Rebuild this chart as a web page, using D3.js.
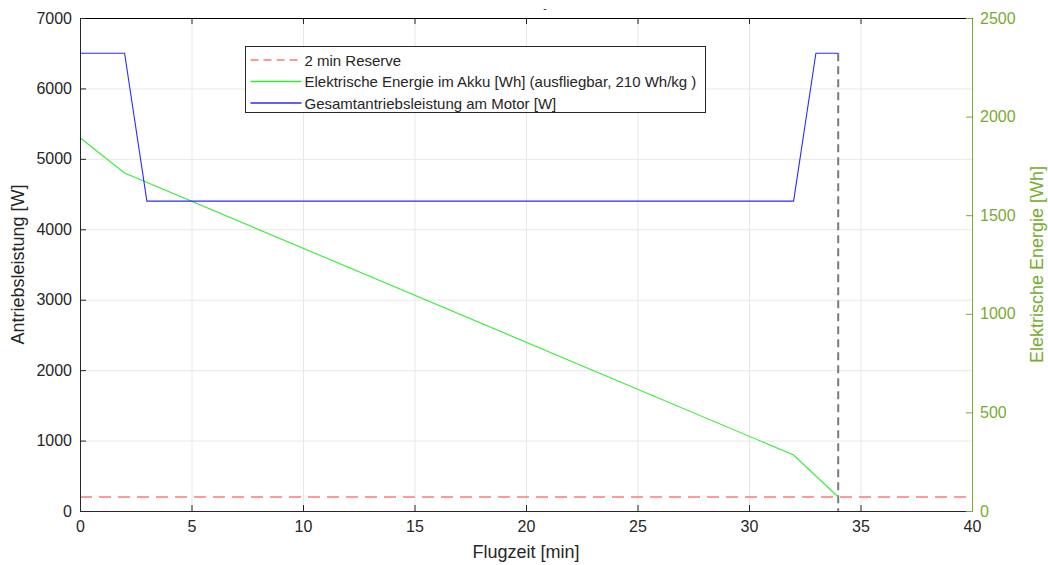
<!DOCTYPE html>
<html>
<head>
<meta charset="utf-8">
<script src="https://cdn.jsdelivr.net/npm/d3@7"></script>
<style>
body { margin: 0; background: #fff; }
text { font-family: "Liberation Sans", Arial, sans-serif; }
</style>
</head>
<body>
<svg width="1048" height="565"></svg>
<script>
// data
const powerTime = [0, 2, 3, 32, 33, 34];
const powerW = [6500, 6500, 4400, 4400, 6500, 6500];
const energyTime = [0, 2, 32, 34];
const energyWh = [1893, 1714, 284, 71];
const reserveW = 200;
const endTime = 34;
const xTicks = [0, 5, 10, 15, 20, 25, 30, 35, 40];
const yLeftTicks = [0, 1000, 2000, 3000, 4000, 5000, 6000, 7000];
const yRightTicks = [0, 500, 1000, 1500, 2000, 2500];
const legendLabels = ["2 min Reserve", "Elektrische Energie im Akku [Wh] (ausfliegbar, 210 Wh/kg )", "Gesamtantriebsleistung am Motor [W]"];

var svg = d3.select("svg");
const margin = {left: 80, right: 76, top: 18, bottom: 54};
const width = +svg.attr("width");
const height = +svg.attr("height");
const x0 = margin.left, x1 = width - margin.right;
const y0 = height - margin.bottom, y1 = margin.top;

const x = d3.scaleLinear().domain([0, 40]).range([x0, x1]);
const yL = d3.scaleLinear().domain([0, 7000]).range([y0, y1]);
const yR = d3.scaleLinear().domain([0, 2500]).range([y0, y1]);

const axisCol = "#262626";
const rightCol = "#77ac30";
const greenCol = "#33ee33";
const blueCol = "#2b2bff";
const redCol = "#ff7a7a";

// grid
const grid = svg.append("g").attr("stroke", "#e8e8e8").attr("stroke-width", 1);
grid.selectAll(".gx").data(xTicks.slice(1, -1)).join("line")
	.attr("x1", d => x(d) + 0.5).attr("x2", d => x(d) + 0.5)
	.attr("y1", y0).attr("y2", y1);
grid.selectAll(".gy").data(yLeftTicks.slice(1, -1)).join("line")
	.attr("x1", x0).attr("x2", x1)
	.attr("y1", d => yL(d) + 0.5).attr("y2", d => yL(d) + 0.5);

// reserve line
svg.append("line")
	.attr("x1", x0).attr("x2", x1)
	.attr("y1", yL(reserveW)).attr("y2", yL(reserveW))
	.attr("stroke", redCol).attr("stroke-width", 1.5)
	.attr("stroke-dasharray", "12,7");

// end of flight marker
svg.append("line")
	.attr("x1", x(endTime)).attr("x2", x(endTime))
	.attr("y1", yL(6500)).attr("y2", y0)
	.attr("stroke", "#7a7a7a").attr("stroke-width", 2)
	.attr("stroke-dasharray", "8,5");

// energy
const energyData = energyTime.map((t, i) => [t, energyWh[i]]);
svg.append("path")
	.datum(energyData)
	.attr("fill", "none")
	.attr("stroke", greenCol)
	.attr("stroke-width", 1.1)
	.attr("d", d3.line().x(d => x(d[0])).y(d => yR(d[1])));

// power
const powerData = powerTime.map((t, i) => [t, powerW[i]]);
svg.append("path")
	.datum(powerData)
	.attr("fill", "none")
	.attr("stroke", blueCol)
	.attr("stroke-width", 1.1)
	.attr("d", d3.line().x(d => x(d[0])).y(d => yL(d[1])));

// axes
const fs = "16px";
const xAxis = svg.append("g").attr("transform", `translate(0,${y0})`)
	.call(d3.axisBottom(x).tickValues(xTicks).tickSize(-6).tickPadding(10).tickSizeOuter(0));
const xTop = svg.append("g").attr("transform", `translate(0,${y1})`)
	.call(d3.axisTop(x).tickValues(xTicks).tickSize(-6).tickFormat("").tickSizeOuter(0));
const yAxisL = svg.append("g").attr("transform", `translate(${x0},0)`)
	.call(d3.axisLeft(yL).tickValues(yLeftTicks).tickSize(-6).tickPadding(8).tickFormat(d3.format("d")).tickSizeOuter(0));
const yAxisR = svg.append("g").attr("transform", `translate(${x1},0)`)
	.call(d3.axisRight(yR).tickValues(yRightTicks).tickSize(-6).tickPadding(8).tickFormat(d3.format("d")).tickSizeOuter(0));

[xAxis, xTop, yAxisL].forEach(g => {
	g.select(".domain").attr("stroke", axisCol);
	g.selectAll(".tick line").attr("stroke", axisCol);
	g.selectAll("text").attr("fill", axisCol).style("font-size", fs);
});
xTop.select(".domain").attr("stroke", "#000");
yAxisR.select(".domain").attr("stroke", rightCol);
yAxisR.selectAll(".tick line").attr("stroke", rightCol);
yAxisR.selectAll("text").attr("fill", rightCol).style("font-size", fs);

// labels
svg.append("text")
	.attr("x", (x0 + x1) / 2).attr("y", 558)
	.attr("text-anchor", "middle").attr("fill", axisCol).style("font-size", "18px")
	.text("Flugzeit [min]");
svg.append("text")
	.attr("transform", `translate(24,${(y0 + y1) / 2}) rotate(-90)`)
	.attr("text-anchor", "middle").attr("fill", axisCol).style("font-size", "18px")
	.text("Antriebsleistung [W]");
svg.append("text")
	.attr("transform", `translate(1043,${(y0 + y1) / 2}) rotate(-90)`)
	.attr("text-anchor", "middle").attr("fill", rightCol).style("font-size", "18px")
	.text("Elektrische Energie [Wh]");
svg.append("text")
	.attr("x", 545).attr("y", 12)
	.attr("text-anchor", "middle").attr("fill", axisCol).style("font-size", "10px")
	.text("-");

// legend
const lg = svg.append("g").attr("transform", "translate(245.5,46.5)");
lg.append("rect").attr("width", 460).attr("height", 66)
	.attr("fill", "#fff").attr("stroke", axisCol).attr("stroke-width", 1);
const legStyles = [
	{c: redCol, dash: "8,5", w: 1.5},
	{c: greenCol, dash: "none", w: 1.5},
	{c: blueCol, dash: "none", w: 1.5}
];
legendLabels.forEach((t, i) => {
	const yy = 13.5 + i * 21.5;
	lg.append("path")
		.attr("d", d3.line()([[5, yy], [56, yy]]))
		.attr("fill", "none")
		.attr("stroke", legStyles[i].c).attr("stroke-width", legStyles[i].w)
		.attr("stroke-dasharray", legStyles[i].dash);
	lg.append("text").attr("x", 59).attr("y", yy + 5.5)
		.attr("fill", axisCol).style("font-size", "15px").text(t);
});
</script>
</body>
</html>
